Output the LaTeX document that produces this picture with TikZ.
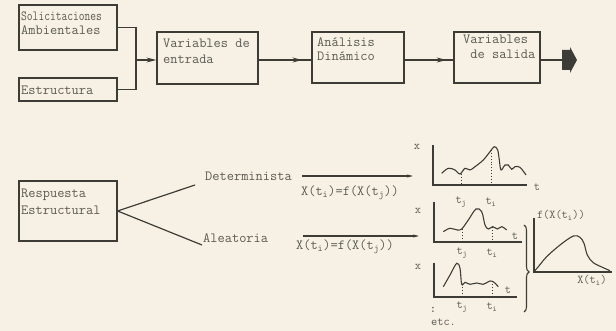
\documentclass[tikz,border=0pt]{standalone}
\usepackage{fontspec}
\usepackage{graphicx}
\usetikzlibrary{arrows.meta,decorations.markings,decorations.pathreplacing,calc}
\definecolor{bgc}{RGB}{246,241,228}
\definecolor{ink}{RGB}{62,60,54}
\definecolor{txtc}{RGB}{92,90,82}
\begin{document}
\begin{tikzpicture}[x=1pt,y=-1pt,
  box/.style={draw=ink,line width=1.2pt,inner sep=0pt},
  txt/.style={text=txtc,font=\ttfamily\fontsize{14}{16}\selectfont,inner sep=0pt,anchor=west},
  stxt/.style={text=txtc,font=\ttfamily\fontsize{12}{14}\selectfont,inner sep=0pt},
  conn/.style={draw=ink,line width=1.2pt},
  midarrow/.style={postaction={decorate},decoration={markings,mark=at position #1 with {\arrow{Stealth[length=10pt,width=5pt]}}}},
  axis/.style={draw=ink,line width=1.1pt},
  curve/.style={draw=ink,line width=1.1pt,smooth,tension=0.55},
  dots/.style={draw=ink,line width=0.9pt,dotted}]
\fill[bgc] (0,0) rectangle (616,331);
\useasboundingbox (0,0) rectangle (616,331);

% top row boxes
\node[box,minimum width=98pt,minimum height=45pt] (A) at (68,27.5) {};
\node[txt] (At1) at (21,16) {\scalebox{0.8}[1]{Solicitaciones}};
\node[txt] (At2) at (21,30) {Ambientales};
\node[box,minimum width=98pt,minimum height=23pt] (B) at (68,89.5) {};
\node[txt] (Bt) at (21,90) {Estructura};
\node[box,minimum width=101pt,minimum height=52pt] (C) at (207.5,58) {};
\node[txt] (Ct1) at (163,43) {Variables de};
\node[txt] (Ct2) at (163,59) {entrada};
\node[box,minimum width=92pt,minimum height=51pt] (D) at (358,57.5) {};
\node[txt] (Dt1) at (317,42) {Análisis};
\node[txt] (Dt2) at (317,56) {Dinámico};
\node[box,minimum width=86pt,minimum height=51pt] (E) at (497,57.5) {};
\node[txt] (Et1) at (463,39) {Variables};
\node[txt] (Et2) at (463,54) {\ de salida};

\coordinate (j) at (136,60);
\coordinate (F) at (562,60);
\draw[conn] (A.east) -| (j) |- (B.east);
\draw[conn,-{Stealth[length=10pt,width=5pt]}] (j) -- (C.west |- j);
\draw[conn,midarrow=0.83] (C.east |- j) -- (D.west |- j);
\draw[conn,midarrow=0.86] (D.east |- j) -- (E.west |- j);
\draw[conn] (E.east |- j) -- (F);
\fill[ink] (F) ++(0,-10) -- ++(8,0) -- ++(0,-3) -- (577,60) -- (570,73) -- (570,70) -- (562,70) -- cycle;

% bottom: response
\node[box,minimum width=98pt,minimum height=60pt] (R) at (68,211) {};
\node[txt] (Rt1) at (21,195) {Respuesta};
\node[txt] (Rt2) at (21,210) {Estructural};
\coordinate (rd) at (195,185);
\coordinate (ra) at (202,245);
\draw[conn] (R.east) -- (rd);
\draw[conn] (R.east) -- (ra);
\node[txt] (Det) at (205,176) {Determinista};
\node[txt] (Ale) at (203,238) {Aleatoria};
\coordinate (d1) at (302,176);
\coordinate (d2) at (413,176);
\coordinate (a1) at (303,236);
\coordinate (a2) at (419,236);
\draw[conn,-{Stealth[length=6pt,width=3pt]}] (d1) -- (d2);
\draw[conn,-{Stealth[length=6pt,width=3pt]}] (a1) -- (a2);
\node[txt,anchor=center] (Fd) at (350,193) {X(t\textsubscript{i})=f(X(t\textsubscript{j}))};
\node[txt,anchor=center] (Fa) at (345,247) {X(t\textsubscript{i})=f(X(t\textsubscript{j}))};

% plot 1
\draw[axis] (433,145) -- (433,185) -- (527,185);
\draw[curve] plot coordinates {(441.7,173.3) (448.3,168.3) (455,170) (460,174) (465,168.3) (470,170) (475,166.7) (483.3,160) (490,151.7) (494.3,146.7) (497.7,150) (499.3,160) (501,170) (505,165) (508.3,165) (511.7,169.3) (515,166.7) (520,167.3) (526,175)};
\draw[dots] (461,174) -- (461,185);
\draw[dots] (491,150) -- (491,185);
\node[stxt] (x1) at (417,147) {x};
\node[stxt] (t1) at (537,187) {t};
\node[stxt] (tj1) at (461,202) {t\textsubscript{j}};
\node[stxt] (ti1) at (491,202) {t\textsubscript{i}};

% plot 2
\draw[axis] (434,202) -- (434,242) -- (522,242);
\draw[curve] plot coordinates {(443.3,231.7) (450,228.3) (457.3,230) (461.7,229) (468.3,220) (476,209) (481.7,211.7) (485,225) (488.3,229) (492.7,226.7) (497.3,229) (501.7,226.7) (506.7,230)};
\draw[dots] (462,229) -- (462,242);
\draw[dots] (492,227) -- (492,242);
\node[stxt] (x2) at (418,211) {x};
\node[stxt] (t2) at (515,236) {t};
\node[stxt] (tj2) at (462,253) {t\textsubscript{j}};
\node[stxt] (ti2) at (492,253) {t\textsubscript{i}};

% plot 3
\draw[axis] (434,263) -- (434,297) -- (517,297);
\draw[curve] plot coordinates {(443.3,286.7) (450,275) (456.7,263.3) (460,268.3) (461.7,284.3) (465,282.3) (470,284.3) (476.7,283) (483.3,284.3) (490,281) (494,282.3) (498.3,286.7)};
\draw[dots] (462,284) -- (462,297);
\draw[dots] (492,281) -- (492,297);
\node[stxt] (x3) at (418,267) {x};
\node[stxt] (t3) at (508,290) {t};
\node[stxt] (tj3) at (462,307) {t\textsubscript{j}};
\node[stxt] (ti3) at (492,307) {t\textsubscript{i}};
\node[stxt] (col) at (433,310) {\textbf{:}};
\node[stxt,anchor=west] (etc) at (431,322) {etc.};

% brace
\draw[ink,line width=1.1pt,decorate,decoration={brace,amplitude=5pt,aspect=0.54}] (524,225) -- (524,312);

% plot 4: distribution
\draw[axis] (534,218) -- (534,272) -- (612,272);
\draw[curve] plot coordinates {(534,271.7) (538.3,266.7) (546.7,256.7) (560,245) (573.3,236) (580,237.3) (584,243.3) (587.3,255) (593.3,262.7) (603.3,267.7) (610,270.7)};
\node[stxt] (fx) at (561,215) {f(X(t\textsubscript{i}))};
\node[stxt] (xx) at (592,280) {X(t\textsubscript{i})};
\end{tikzpicture}
\end{document}
